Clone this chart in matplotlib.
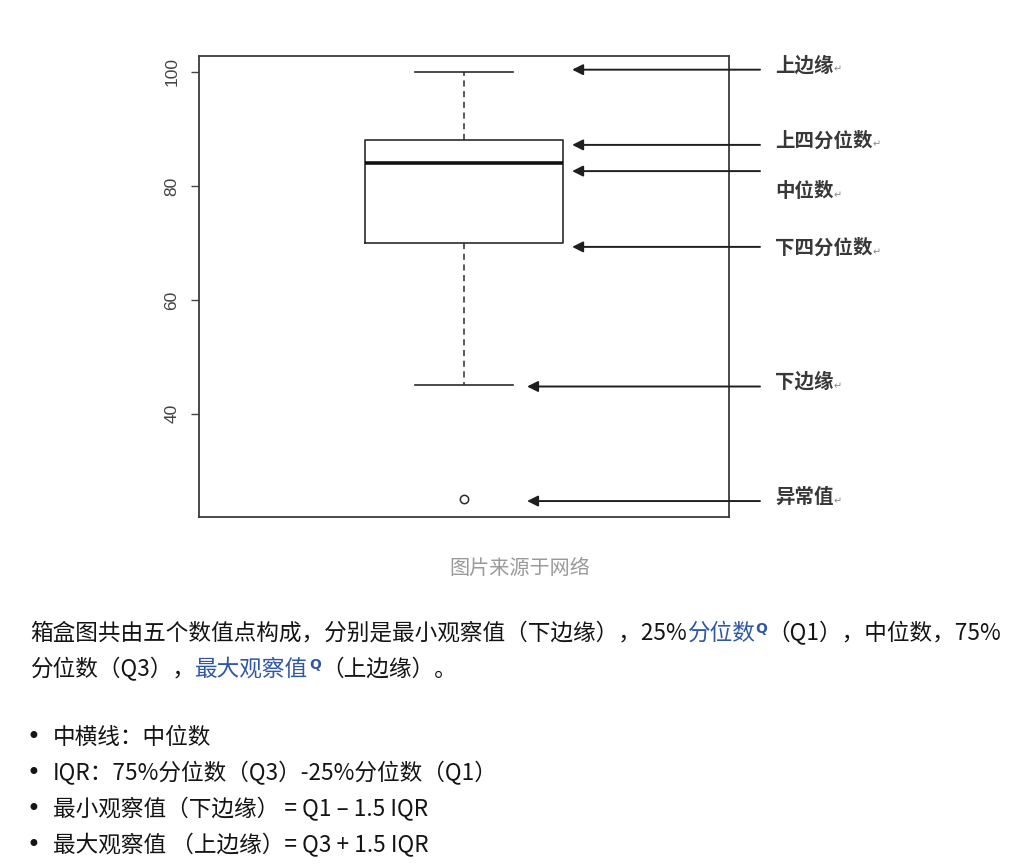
import matplotlib

matplotlib.use("Agg")
import matplotlib.pyplot as plt
import matplotlib.transforms as mtransforms

plt.rcParams["font.family"] = ["Noto Sans CJK SC", "DejaVu Sans"]

W, H = 1026, 866

# box plot statistics
whisker_low = 45
q1 = 70
median = 84
q3 = 88
whisker_high = 100
outliers = [25]

y_ticks = [40, 60, 80, 100]

note_labels = ["上边缘", "上四分位数", "中位数", "下四分位数", "下边缘", "异常值"]
note_targets = [whisker_high, q3, median, q1, whisker_low, outliers[0]]

caption = "图片来源于网络"
para_line1 = [
    ("箱盒图共由五个数值点构成，分别是最小观察值（下边缘），25%", False),
    ("分位数", True),
    ("（Q1），中位数，75%", False),
]
para_line2 = [
    ("分位数（Q3），", False),
    ("最大观察值", True),
    ("（上边缘）。", False),
]
bullets = [
    "中横线：中位数",
    "IQR：75%分位数（Q3）-25%分位数（Q1）",
    "最小观察值（下边缘） = Q1 – 1.5 IQR",
    "最大观察值 （上边缘）= Q3 + 1.5 IQR",
]

# layout (pixels of the 1026x866 canvas / small nudges in data units)
ARROW_NUDGE = [0.4, -0.8, -1.4, -0.7, -0.2, -0.3]
LABEL_Y = [101.1, 87.9, 79.1, 69.1, 45.6, 25.4]
ARROW_HEAD_X = [0.704, 0.704, 0.704, 0.704, 0.619, 0.619]
TEXT_COLOR = "#141414"
LINK_COLOR = "#2f57a3"
INK = "#2b2b2b"
BODY_SIZE = 16.3


def px(x, y):
    return x / W, 1 - y / H


fig = plt.figure(figsize=(W / 100, H / 100), dpi=100)
bg = fig.add_axes([0, 0, 1, 1])
bg.set_axis_off()

ax = fig.add_axes([199 / W, 1 - 517 / H, 530 / W, 461 / H])
stats = [{"med": median, "q1": q1, "q3": q3, "whislo": whisker_low, "whishi": whisker_high, "fliers": outliers}]
ax.bxp(
    stats,
    positions=[1],
    widths=0.4,
    capwidths=0.2,
    boxprops=dict(color=INK, linewidth=1.2),
    whiskerprops=dict(color=INK, linewidth=1.1, linestyle=(0, (4, 3))),
    capprops=dict(color=INK, linewidth=1.2),
    medianprops=dict(color="#111111", linewidth=2.6),
    flierprops=dict(marker="o", markerfacecolor="none", markeredgecolor=INK, markersize=6, markeredgewidth=1.1),
)
ax.set_xlim(1 - 0.538, 1 + 0.538)
ax.set_ylim(21.9, 102.8)
ax.set_xticks([])
ax.set_yticks(y_ticks)
ax.set_yticklabels([str(t) for t in y_ticks], rotation=90, va="center", fontsize=12.5, color="#444444",
                   family="Liberation Sans")
ax.tick_params(axis="y", length=6, width=1.0, color="#444444", pad=8)
for side in ["top", "bottom", "left", "right"]:
    ax.spines[side].set_color("#3a3a3a")
    ax.spines[side].set_linewidth(1.3)

trans = mtransforms.blended_transform_factory(ax.transAxes, ax.transData)
for label, target, nudge, ly, hx in zip(note_labels, note_targets, ARROW_NUDGE, LABEL_Y, ARROW_HEAD_X):
    ay = target + nudge
    ax.annotate(
        "", xy=(hx, ay), xycoords=trans, xytext=(1.0585, ay), textcoords=trans,
        annotation_clip=False,
        arrowprops=dict(arrowstyle="-|>", mutation_scale=16, lw=1.4, color="#1f1f1f", shrinkA=0, shrinkB=0),
    )
    t = ax.text(1.087, ly, label, transform=trans, fontsize=14, color="#383838", va="center", ha="left",
                fontweight="bold", clip_on=False)
    ax.annotate("↵", xy=(1, 0.3), xycoords=t, fontsize=7, color="#888888", va="center", ha="left",
                annotation_clip=False)

fig.text(*px(520, 568), caption, fontsize=14.5, color="#9a9a9a", ha="center", va="center")


def write_run(x, y, parts, size=BODY_SIZE):
    prev = None
    offset = 0
    for text, is_link in parts:
        color = LINK_COLOR if is_link else TEXT_COLOR
        if prev is None:
            prev = bg.text(*px(x, y), text, fontsize=size, color=color, va="center", ha="left",
                           transform=bg.transAxes)
        else:
            prev = bg.annotate(text, xy=(1, 0.5), xycoords=prev, xytext=(offset, 0), textcoords="offset pixels",
                               fontsize=size, color=color, va="center", ha="left")
        offset = 0
        if is_link:
            bg.annotate("Q", xy=(1, 0.98), xycoords=prev, xytext=(1, 0), textcoords="offset pixels",
                        fontsize=10, fontweight="bold", color=LINK_COLOR, va="top", ha="left",
                        family="DejaVu Sans")
            offset = 13


write_run(30, 633, para_line1)
write_run(30, 669, para_line2)

for i, line in enumerate(bullets):
    y = 737 + i * 36
    bg.text(*px(27, y), "•", fontsize=17, color=TEXT_COLOR, va="center", ha="left", transform=bg.transAxes,
            family="DejaVu Sans")
    bg.text(*px(53, y), line, fontsize=BODY_SIZE, color=TEXT_COLOR, va="center", ha="left",
            transform=bg.transAxes)

fig.savefig("out.png", dpi=100)
